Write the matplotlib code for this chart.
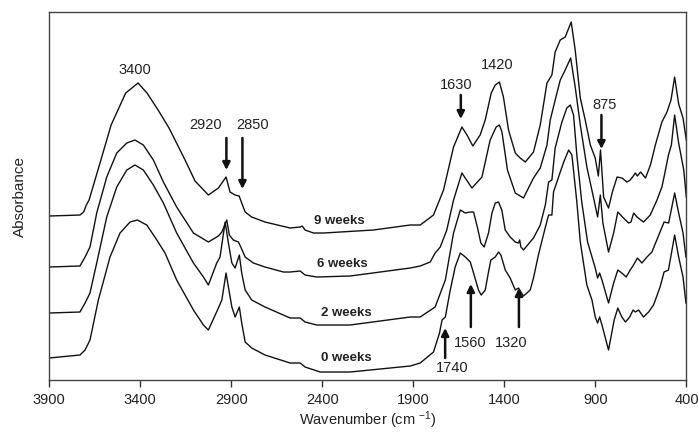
import matplotlib
matplotlib.use("Agg")
import matplotlib.pyplot as plt

plt.rcParams['font.family'] = ['Liberation Sans', 'DejaVu Sans']
plt.rcParams['mathtext.default'] = 'regular'

# FTIR spectra, wavenumber (cm-1) and absorbance (arbitrary units, offset per sample)
wn_9w = [3900, 3730, 3710, 3695, 3680, 3620, 3559, 3479, 3411, 3362, 3301, 3241, 3153, 3098,
         3025, 2970, 2928, 2906, 2878, 2856, 2842, 2823, 2787, 2714, 2576, 2521, 2510, 2494,
         2448, 2393, 2119, 1917, 1862, 1789, 1734, 1679, 1633, 1605, 1573, 1533, 1505, 1472,
         1450, 1427, 1405, 1377, 1340, 1313, 1285, 1240, 1203, 1166, 1139, 1121, 1093, 1066,
         1033, 1011, 983, 956, 928, 901, 884, 872, 855, 828, 807, 781, 754, 727, 709, 692,
         681, 670, 652, 625, 598, 571, 535, 507, 485, 465, 443, 419, 401]
ab_9w = [164, 165, 168, 175, 180, 217, 255, 287, 297, 287, 270, 252, 220, 199,
         185, 192, 203, 188, 185, 184, 177, 168, 163, 158, 152, 153, 154, 150,
         147, 147, 150, 155, 155, 165, 190, 233, 253, 245, 234, 245, 260, 287,
         295, 298, 283, 250, 227, 222, 218, 228, 255, 297, 305, 328, 340, 343,
         358, 330, 282, 260, 235, 222, 204, 230, 183, 172, 188, 203, 202, 198, 200, 204,
         207, 204, 208, 202, 215, 235, 258, 268, 280, 303, 276, 262, 240]

wn_6w = [3900, 3730, 3702, 3675, 3638, 3583, 3528, 3473, 3428, 3382, 3327, 3272, 3199, 3107,
         3025, 2970, 2951, 2924, 2910, 2888, 2860, 2847, 2823, 2778, 2714, 2613, 2576, 2521,
         2494, 2430, 2247, 1917, 1862, 1807, 1780, 1752, 1716, 1679, 1633, 1578, 1523, 1478,
         1445, 1427, 1413, 1383, 1340, 1295, 1240, 1203, 1166, 1148, 1121, 1093, 1066, 1036,
         1011, 983, 947, 910, 888, 873, 859, 828, 800, 777, 746, 718, 705, 690, 672, 636,
         599, 562, 535, 521, 499, 483, 465, 443, 415, 401]
ab_6w = [113, 114, 123, 133, 167, 203, 227, 237, 240, 235, 220, 198, 173, 147,
         138, 144, 148, 160, 145, 140, 138, 133, 123, 117, 113, 108, 108, 109,
         105, 103, 104, 112, 114, 118, 127, 133, 150, 180, 207, 192, 203, 240,
         253, 255, 248, 210, 187, 182, 202, 212, 235, 260, 280, 300, 310, 322,
         293, 255, 213, 182, 163, 185, 157, 128, 147, 168, 162, 157, 158, 167, 163, 158,
         165, 180, 193, 205, 225, 235, 265, 237, 210, 183]

wn_2w = [3900, 3730, 3702, 3675, 3638, 3583, 3528, 3473, 3428, 3382, 3327, 3272, 3199, 3107,
         3052, 3025, 2979, 2961, 2933, 2915, 2896, 2878, 2855, 2842, 2823, 2787, 2714, 2576,
         2521, 2494, 2430, 2247, 1917, 1862, 1780, 1724, 1679, 1642, 1614, 1587, 1569, 1547,
         1529, 1511, 1487, 1468, 1450, 1432, 1414, 1395, 1368, 1340, 1322, 1316, 1309, 1295,
         1240, 1203, 1175, 1157, 1139, 1121, 1084, 1057, 1038, 1020, 1002, 975, 943, 901,
         888, 877, 864, 828, 800, 777, 755, 731, 709, 691, 669, 645, 617, 590, 563, 523,
         498, 465, 443, 419, 403]
ab_2w = [67, 68, 77, 87, 117, 163, 193, 210, 215, 210, 195, 177, 147, 117,
         103, 95, 117, 123, 158, 137, 117, 112, 125, 107, 90, 80, 73, 62,
         62, 58, 55, 55, 63, 63, 73, 100, 147, 170, 167, 168, 168, 152,
         137, 133, 147, 167, 177, 178, 170, 150, 143, 138, 137, 140, 133, 130,
         142, 155, 175, 198, 200, 232, 258, 272, 275, 265, 225, 178, 138, 112,
         102, 107, 100, 77, 97, 110, 107, 103, 110, 115, 122, 117, 123, 128, 140, 158,
         157, 187, 167, 147, 123]

wn_0w = [3900, 3730, 3702, 3675, 3629, 3565, 3510, 3455, 3415, 3363, 3308, 3263, 3199, 3107,
         3052, 3025, 2970, 2951, 2928, 2915, 2896, 2878, 2855, 2842, 2823, 2787, 2714, 2576,
         2521, 2494, 2411, 2247, 1917, 1862, 1789, 1756, 1742, 1724, 1697, 1670, 1642, 1614,
         1587, 1569, 1542, 1527, 1505, 1487, 1474, 1450, 1432, 1419, 1395, 1368, 1340, 1322,
         1309, 1295, 1258, 1240, 1213, 1176, 1157, 1139, 1130, 1093, 1074, 1047, 1029, 1002,
         983, 947, 919, 901, 888, 877, 864, 828, 797, 777, 755, 735, 712, 693, 681, 663,
         636, 608, 581, 545, 523, 499, 465, 443, 419, 403]
ab_0w = [22, 25, 30, 40, 80, 123, 147, 158, 160, 155, 140, 127, 100, 70,
         55, 50, 72, 80, 107, 93, 73, 63, 73, 57, 38, 32, 25, 17,
         17, 13, 8, 8, 14, 17, 28, 47, 60, 63, 90, 113, 127, 123,
         118, 107, 90, 85, 90, 108, 120, 123, 128, 125, 110, 102, 90, 92,
         88, 84, 90, 102, 125, 152, 165, 165, 188, 208, 218, 230, 225, 178,
         138, 95, 80, 63, 57, 63, 55, 30, 60, 72, 63, 58, 63, 70, 68, 70,
         63, 68, 75, 93, 108, 110, 145, 123, 103, 77]

spectra = [(wn_9w, ab_9w), (wn_6w, ab_6w), (wn_2w, ab_2w), (wn_0w, ab_0w)]

week_labels = ['9 weeks', '6 weeks', '2 weeks', '0 weeks']
week_label_pos = [(2307, 159), (2287, 116), (2265, 67), (2265, 22)]

# peak labels: text, text position, arrow tail, arrow head (None = no arrow)
peaks = [
    ('3400', (3428, 310), None, None),
    ('2920', (3039, 255), (2926, 242), (2926, 210)),
    ('2850', (2783, 255), (2838, 242), (2838, 191)),
    ('1630', (1664, 295), (1639, 285), (1639, 261)),
    ('1420', (1441, 315), None, None),
    ('875', (850, 275), (867, 265), (867, 231)),
    ('1560', (1588, 37), (1584, 53), (1584, 96)),
    ('1320', (1362, 37), (1320, 53), (1320, 92)),
    ('1740', (1688, 12), (1725, 22), (1725, 52)),
]

xticks = [3900, 3400, 2900, 2400, 1900, 1400, 900, 400]

fig = plt.figure(figsize=(6.99, 4.34), dpi=100)
ax = fig.add_axes([0.0701, 0.1244, 0.9120, 0.8479])

for wn, ab in spectra:
    ax.plot(wn, ab, color='#111111', lw=1.0, solid_joinstyle='round')

for lab, (x, y) in zip(week_labels, week_label_pos):
    ax.text(x, y, lab, ha='center', va='center', fontsize=9.5, fontweight='bold', color='#222222')

for lab, tpos, tail, head in peaks:
    ax.text(tpos[0], tpos[1], lab, ha='center', va='center', fontsize=10.5, color='#222222')
    if tail is not None:
        ax.annotate('', xy=head, xytext=tail,
                    arrowprops=dict(arrowstyle='-|>', color='#111111', lw=1.8,
                                    mutation_scale=11, shrinkA=0, shrinkB=0))

ax.set_xlim(3900, 400)
ax.set_ylim(0, 368)
ax.set_xticks(xticks)
ax.set_yticks([])
ax.tick_params(axis='x', direction='out', length=5, width=1, colors='#333333',
               labelsize=10.5, labelcolor='#222222', pad=4)
for s in ax.spines.values():
    s.set_color('#444444')
    s.set_linewidth(1.0)

ax.set_xlabel('Wavenumber (cm $^{-1}$)', fontsize=10.5, color='#222222', labelpad=2)
ax.set_ylabel('Absorbance', fontsize=11, color='#222222', labelpad=16)

fig.savefig('out.png', dpi=100)
